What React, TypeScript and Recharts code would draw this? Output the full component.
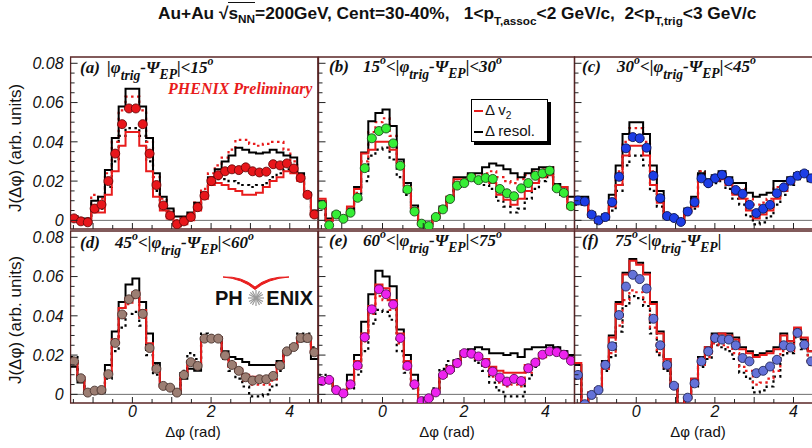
import React from 'react';
import { ComposedChart, Line, Scatter, XAxis, YAxis, ReferenceLine, ReferenceArea } from 'recharts';

// ---- bins (degrees) ----
const binLowDeg = [-90, -80, -70, -60, -50, -40, -30, -20, -10, 0, 10, 20, 30, 40, 50, 60, 70, 80, 90, 100, 110, 120, 130, 140, 150, 160, 170, 180, 190, 200, 210, 220, 230, 240, 250, 260];
const binWidthDeg = 10;
const xDomain = [-Math.PI / 2, (3 * Math.PI) / 2];
const yDomain = [-0.0044, 0.0832];
const xTicks = [-1.5, -1, -0.5, 0, 0.5, 1, 1.5, 2, 2.5, 3, 3.5, 4, 4.5];
const xLabelVals = [0, 2, 4];
const xLabelText = ['0', '2', '4'];
const yTicks = [0, 0.005, 0.01, 0.015, 0.02, 0.025, 0.03, 0.035, 0.04, 0.045, 0.05, 0.055, 0.06, 0.065, 0.07, 0.075, 0.08];
const yLabelVals = [0, 0.02, 0.04, 0.06, 0.08];
const yLabelText = ['0', '0.02', '0.04', '0.06', '0.08'];

// ---- panel (a) |phi-Psi|<15 ----
const dataA = [0.001, -0.0005, -0.001, 0.006, 0.008, 0.020, 0.034, 0.049, 0.057, 0.057, 0.049, 0.034, 0.018, 0.0076, 0.0025, -0.002, -0.0005, 0.0017, 0.0067, 0.0126, 0.020, 0.023, 0.025, 0.026, 0.0256, 0.027, 0.025, 0.0244, 0.0248, 0.0286, 0.028, 0.029, 0.0264, 0.0216, 0.013, 0.003];
const resolHiA = [0.002, 0.001, 0.001, 0.010, 0.012, 0.0256, 0.042, 0.058, 0.067, 0.067, 0.058, 0.042, 0.024, 0.012, 0.006, 0.002, 0.002, 0.004, 0.009, 0.014, 0.022, 0.026, 0.030, 0.033, 0.037, 0.036, 0.0345, 0.034, 0.0345, 0.036, 0.0345, 0.033, 0.032, 0.024, 0.014, 0.005];
const resolLoA = [0.001, -0.001, -0.001, 0.005, 0.006, 0.017, 0.030, 0.043, 0.047, 0.047, 0.043, 0.030, 0.015, 0.006, 0.002, -0.003, -0.001, 0.001, 0.006, 0.012, 0.019, 0.021, 0.021, 0.020, 0.019, 0.018, 0.017, 0.018, 0.019, 0.022, 0.024, 0.026, 0.025, 0.021, 0.013, 0.003];
const v2SolidA = [0.000, -0.001, -0.001, 0.004, 0.004, 0.013, 0.025, 0.038, 0.045, 0.045, 0.038, 0.025, 0.012, 0.005, 0.001, -0.003, -0.002, 0.000, 0.005, 0.011, 0.018, 0.019, 0.018, 0.016, 0.015, 0.013, 0.013, 0.014, 0.017, 0.020, 0.022, 0.025, 0.024, 0.020, 0.012, 0.002];
const v2DotA = [0.002, 0.001, 0.001, 0.013, 0.011, 0.024, 0.040, 0.056, 0.063, 0.063, 0.056, 0.040, 0.022, 0.011, 0.005, 0.000, 0.001, 0.003, 0.009, 0.016, 0.024, 0.028, 0.032, 0.036, 0.041, 0.041, 0.039, 0.038, 0.039, 0.040, 0.040, 0.036, 0.030, 0.022, 0.013, 0.004];

// ---- panel (b) 15-30 ----
const dataB = [0.0079, -0.0025, 0.003, 0.0008, 0.0039, 0.0115, 0.0266, 0.0418, 0.0455, 0.0468, 0.0392, 0.0278, 0.0157, 0.0045, -0.0017, -0.0029, 0.0017, 0.0056, 0.0109, 0.0177, 0.019, 0.0219, 0.0205, 0.0216, 0.0211, 0.016, 0.0138, 0.0123, 0.0163, 0.019, 0.0227, 0.0239, 0.0253, 0.0163, 0.014, 0.0072];
const resolHiB = [0.010, 0.001, 0.004, 0.002, 0.006, 0.017, 0.0345, 0.0505, 0.0547, 0.0564, 0.048, 0.031, 0.019, 0.0076, -0.001, -0.002, 0.002, 0.007, 0.012, 0.022, 0.022, 0.024, 0.024, 0.027, 0.029, 0.028, 0.026, 0.024, 0.022, 0.024, 0.026, 0.027, 0.027, 0.0185, 0.017, 0.012];
const resolLoB = [0.009, 0.0, 0.002, 0.001, 0.005, 0.010, 0.020, 0.033, 0.036, 0.037, 0.031, 0.022, 0.013, 0.004, -0.002, -0.003, 0.001, 0.005, 0.010, 0.017, 0.019, 0.021, 0.020, 0.018, 0.016, 0.010, 0.007, 0.004, 0.006, 0.011, 0.016, 0.020, 0.022, 0.015, 0.013, 0.006];
const v2SolidB = [0.011, 0.0, 0.002, 0.002, 0.007, 0.016, 0.034, 0.036, 0.040, 0.040, 0.036, 0.029, 0.017, 0.006, -0.002, -0.003, 0.002, 0.006, 0.012, 0.021, 0.021, 0.022, 0.022, 0.020, 0.019, 0.013, 0.0105, 0.008, 0.011, 0.015, 0.019, 0.022, 0.023, 0.017, 0.017, 0.006];
const v2DotB = [0.009, 0.0, 0.003, 0.001, 0.004, 0.014, 0.030, 0.045, 0.050, 0.052, 0.043, 0.029, 0.017, 0.006, -0.001, -0.002, 0.002, 0.006, 0.011, 0.019, 0.020, 0.023, 0.022, 0.024, 0.025, 0.022, 0.020, 0.019, 0.021, 0.023, 0.025, 0.026, 0.027, 0.017, 0.015, 0.008];

// ---- panel (c) 30-45 ----
const dataC = [0.0101, 0.0096, 0.0029, 0.0, 0.0017, 0.0093, 0.0222, 0.0367, 0.0424, 0.0418, 0.037, 0.0227, 0.0113, 0.0022, 0.0012, -0.0008, 0.0045, 0.0093, 0.0214, 0.0189, 0.0214, 0.0232, 0.0199, 0.0155, 0.0135, 0.0079, 0.0037, 0.0059, 0.0079, 0.0138, 0.0168, 0.0202, 0.0227, 0.0239, 0.0214, 0.019];
const resolHiC = [0.012, 0.012, 0.004, 0.001, 0.003, 0.013, 0.028, 0.044, 0.050, 0.050, 0.044, 0.028, 0.015, 0.003, 0.002, 0.0, 0.006, 0.012, 0.024, 0.021, 0.023, 0.025, 0.022, 0.019, 0.019, 0.014, 0.012, 0.013, 0.014, 0.020, 0.020, 0.022, 0.024, 0.025, 0.023, 0.020];
const resolLoC = [0.008, 0.008, 0.002, -0.001, 0.0, 0.005, 0.015, 0.028, 0.033, 0.033, 0.028, 0.015, 0.007, 0.001, 0.0, -0.002, 0.003, 0.006, 0.025, 0.017, 0.019, 0.020, 0.016, 0.011, 0.008, 0.002, -0.002, -0.001, 0.002, 0.008, 0.013, 0.018, 0.021, 0.023, 0.020, 0.017];
const v2SolidC = [0.009, 0.009, 0.002, -0.001, 0.001, 0.007, 0.018, 0.033, 0.038, 0.038, 0.033, 0.018, 0.009, 0.002, 0.001, -0.001, 0.004, 0.007, 0.020, 0.018, 0.020, 0.021, 0.018, 0.013, 0.011, 0.005, 0.001, 0.003, 0.005, 0.011, 0.015, 0.019, 0.022, 0.023, 0.021, 0.018];
const v2DotC = [0.011, 0.011, 0.003, 0.0, 0.002, 0.011, 0.025, 0.040, 0.047, 0.047, 0.040, 0.025, 0.013, 0.002, 0.001, -0.001, 0.005, 0.011, 0.025, 0.020, 0.022, 0.024, 0.020, 0.017, 0.016, 0.011, 0.008, 0.009, 0.011, 0.017, 0.018, 0.021, 0.023, 0.024, 0.022, 0.019];

// ---- panel (d) 45-60 ----
const dataD = [0.0168, 0.0082, 0.0009, 0.0019, 0.0022, 0.0103, 0.0262, 0.0407, 0.0484, 0.051, 0.041, 0.0236, 0.013, 0.0043, 0.0034, 0.0009, 0.0099, 0.0164, 0.0145, 0.0284, 0.0284, 0.0284, 0.0198, 0.015, 0.012, 0.0087, 0.007, 0.0077, 0.0077, 0.0094, 0.0147, 0.0219, 0.0241, 0.0287, 0.0287, 0.0214];
const resolHiD = [0.014, 0.006, 0.001, 0.001, 0.001, 0.015, 0.032, 0.047, 0.056, 0.059, 0.047, 0.031, 0.016, 0.005, 0.003, 0.0005, 0.008, 0.013, 0.012, 0.028, 0.028, 0.028, 0.022, 0.019, 0.018, 0.0165, 0.015, 0.015, 0.015, 0.015, 0.017, 0.021, 0.024, 0.027, 0.027, 0.018];
const resolLoD = [0.019, 0.009, 0.001, 0.002, 0.002, 0.008, 0.022, 0.034, 0.041, 0.042, 0.035, 0.020, 0.010, 0.004, 0.003, 0.001, 0.012, 0.021, 0.018, 0.031, 0.030, 0.029, 0.018, 0.012, 0.008, 0.004, -0.001, -0.001, 0.0, 0.004, 0.012, 0.022, 0.025, 0.031, 0.031, 0.024];
const v2SolidD = [0.017, 0.009, 0.001, 0.002, 0.002, 0.011, 0.028, 0.044, 0.049, 0.052, 0.043, 0.026, 0.013, 0.004, 0.003, 0.001, 0.010, 0.017, 0.015, 0.029, 0.029, 0.029, 0.020, 0.016, 0.013, 0.010, 0.009, 0.009, 0.009, 0.010, 0.016, 0.022, 0.024, 0.029, 0.029, 0.021];
const v2DotD = [0.016, 0.008, 0.001, 0.002, 0.002, 0.010, 0.025, 0.039, 0.046, 0.049, 0.039, 0.023, 0.012, 0.004, 0.003, 0.001, 0.010, 0.017, 0.015, 0.028, 0.028, 0.028, 0.019, 0.014, 0.011, 0.007, 0.005, 0.005, 0.005, 0.007, 0.014, 0.022, 0.024, 0.029, 0.029, 0.021];

// ---- panel (e) 60-75 ----
const dataE = [0.0068, 0.0074, 0.0022, 0.0005, 0.0051, 0.0147, 0.0291, 0.0433, 0.0535, 0.051, 0.0458, 0.0287, 0.0145, 0.0051, -0.0034, -0.002, 0.001, 0.0099, 0.0125, 0.0159, 0.021, 0.0207, 0.0193, 0.0159, 0.0116, 0.0086, 0.0065, 0.0079, 0.0068, 0.0133, 0.0162, 0.0202, 0.0219, 0.0215, 0.0202, 0.0171];
const resolHiE = [0.008, 0.007, 0.002, 0.001, 0.010, 0.020, 0.037, 0.051, 0.063, 0.060, 0.055, 0.033, 0.020, 0.010, -0.003, -0.002, 0.001, 0.010, 0.012, 0.017, 0.022, 0.023, 0.024, 0.023, 0.021, 0.021, 0.020, 0.021, 0.019, 0.023, 0.024, 0.024, 0.025, 0.024, 0.022, 0.020];
const resolLoE = [0.010, 0.009, 0.002, 0.0, 0.003, 0.010, 0.022, 0.036, 0.043, 0.042, 0.038, 0.022, 0.011, 0.003, -0.004, -0.002, 0.003, 0.013, 0.017, 0.018, 0.021, 0.020, 0.016, 0.012, 0.006, 0.002, -0.001, -0.001, -0.001, 0.008, 0.014, 0.020, 0.023, 0.024, 0.022, 0.019];
const v2SolidE = [0.007, 0.008, 0.003, 0.001, 0.006, 0.017, 0.031, 0.045, 0.056, 0.054, 0.048, 0.031, 0.017, 0.006, -0.003, -0.002, 0.002, 0.010, 0.014, 0.017, 0.022, 0.021, 0.020, 0.018, 0.014, 0.012, 0.011, 0.011, 0.011, 0.015, 0.017, 0.021, 0.022, 0.022, 0.020, 0.018];
const v2DotE = [0.006, 0.007, 0.002, 0.0, 0.004, 0.013, 0.027, 0.041, 0.050, 0.048, 0.043, 0.026, 0.013, 0.004, -0.004, -0.002, 0.001, 0.009, 0.012, 0.015, 0.020, 0.020, 0.018, 0.014, 0.009, 0.006, 0.004, 0.005, 0.004, 0.011, 0.015, 0.019, 0.021, 0.021, 0.020, 0.017];

// ---- panel (f) >75 ----
const dataF = [0.0099, -0.005, -0.0003, 0.0022, 0.015, 0.0245, 0.0404, 0.0549, 0.0609, 0.0587, 0.0539, 0.0385, 0.025, 0.015, 0.0044, -0.007, -0.0017, 0.0056, 0.0168, 0.0219, 0.0287, 0.0279, 0.0279, 0.025, 0.0185, 0.0168, 0.0108, 0.012, 0.0142, 0.0176, 0.025, 0.0239, 0.0313, 0.0253, 0.0168, 0.012];
const resolHiF = [0.015, -0.006, 0.001, 0.003, 0.017, 0.030, 0.047, 0.062, 0.069, 0.067, 0.062, 0.047, 0.032, 0.018, 0.005, -0.007, -0.002, 0.008, 0.019, 0.024, 0.031, 0.031, 0.031, 0.029, 0.024, 0.022, 0.020, 0.021, 0.022, 0.024, 0.031, 0.027, 0.033, 0.028, 0.022, 0.017];
const resolLoF = [0.008, -0.005, -0.001, 0.001, 0.012, 0.019, 0.032, 0.045, 0.050, 0.049, 0.045, 0.031, 0.020, 0.012, 0.004, -0.007, -0.002, 0.004, 0.014, 0.018, 0.025, 0.024, 0.022, 0.018, 0.011, 0.008, 0.001, 0.002, 0.004, 0.009, 0.020, 0.021, 0.029, 0.023, 0.015, 0.010];
const v2SolidF = [0.016, -0.006, 0.001, 0.003, 0.016, 0.029, 0.046, 0.061, 0.068, 0.066, 0.061, 0.046, 0.031, 0.018, 0.005, -0.007, -0.002, 0.008, 0.018, 0.024, 0.030, 0.031, 0.030, 0.028, 0.023, 0.021, 0.019, 0.020, 0.021, 0.023, 0.030, 0.027, 0.034, 0.029, 0.022, 0.017];
const v2DotF = [0.009, -0.005, -0.001, 0.002, 0.013, 0.021, 0.035, 0.048, 0.053, 0.052, 0.047, 0.034, 0.021, 0.013, 0.004, -0.007, -0.002, 0.005, 0.015, 0.019, 0.026, 0.025, 0.024, 0.021, 0.014, 0.012, 0.005, 0.006, 0.008, 0.012, 0.022, 0.022, 0.030, 0.024, 0.016, 0.011];

// ---- helpers ----
const deg2rad = (d: number) => (d * Math.PI) / 180;
const binCentersRad = binLowDeg.map((d) => deg2rad(d + binWidthDeg / 2));
const binEdgesRad = [...binLowDeg, binLowDeg[binLowDeg.length - 1] + binWidthDeg].map(deg2rad);
const stepData = (vals: number[]) => binEdgesRad.map((x, i) => ({ x, y: vals[Math.min(i, vals.length - 1)] }));
const pointData = (vals: number[]) => binCentersRad.map((x, i) => ({ x, y: vals[i] }));

const RED = '#e81c1c';
const FRAME = '#5a2626';
const SANS = '"Liberation Sans", Arial, Helvetica, sans-serif';
const SERIF = '"Liberation Serif", "Times New Roman", serif';

type PanelCfg = {
  key: string; left: number; right: number; top: number; bottom: number;
  data: number[]; rHi: number[]; rLo: number[]; vS: number[]; vD: number[];
  fill: string; edge: string; yLabels: boolean; xLabels: boolean;
};

const panels: PanelCfg[] = [
  { key: 'a', left: 70.6, right: 317.8, top: 57, bottom: 229, data: dataA, rHi: resolHiA, rLo: resolLoA, vS: v2SolidA, vD: v2DotA, fill: '#e8161b', edge: '#6a0a0a', yLabels: true, xLabels: false },
  { key: 'b', left: 318.5, right: 574.5, top: 57, bottom: 229, data: dataB, rHi: resolHiB, rLo: resolLoB, vS: v2SolidB, vD: v2DotB, fill: '#36ee36', edge: '#1c4a1c', yLabels: false, xLabels: false },
  { key: 'c', left: 574.5, right: 821.5, top: 57, bottom: 229, data: dataC, rHi: resolHiC, rLo: resolLoC, vS: v2SolidC, vD: v2DotC, fill: '#1d3ee6', edge: '#0b1655', yLabels: false, xLabels: false },
  { key: 'd', left: 70.6, right: 317.8, top: 231, bottom: 403, data: dataD, rHi: resolHiD, rLo: resolLoD, vS: v2SolidD, vD: v2DotD, fill: '#9c7e73', edge: '#4a3630', yLabels: true, xLabels: true },
  { key: 'e', left: 318.5, right: 574.5, top: 231, bottom: 403, data: dataE, rHi: resolHiE, rLo: resolLoE, vS: v2SolidE, vD: v2DotE, fill: '#ee22ee', edge: '#5a105a', yLabels: false, xLabels: true },
  { key: 'f', left: 574.5, right: 821.5, top: 231, bottom: 403, data: dataF, rHi: resolHiF, rLo: resolLoF, vS: v2SolidF, vD: v2DotF, fill: '#6472d8', edge: '#23285a', yLabels: false, xLabels: true },
];

const makeXTick = (show: boolean) => (props: any) => {
  const { x, y, payload } = props;
  const v = payload.value as number;
  const isInt = Math.abs(v - Math.round(v)) < 1e-6;
  const idx = xLabelVals.findIndex((t) => Math.abs(t - v) < 1e-6);
  return (
    <g>
      <line x1={x} x2={x} y1={y} y2={y - (isInt ? 6 : 4)} stroke="#222" strokeWidth={1} />
      {show && idx >= 0 && (
        <text x={x} y={y + 14} textAnchor="middle" fontStyle="italic" fontSize={16} fontFamily={SANS} fill="#111">{xLabelText[idx]}</text>
      )}
    </g>
  );
};

const makeYTick = (show: boolean) => (props: any) => {
  const { x, y, payload } = props;
  const v = payload.value as number;
  const idx = yLabelVals.findIndex((t) => Math.abs(t - v) < 1e-7);
  return (
    <g>
      <line x1={x} x2={x + (idx >= 0 ? 7 : 4)} y1={y} y2={y} stroke="#222" strokeWidth={1} />
      {show && idx >= 0 && (
        <text x={x - 7} y={y} dy="0.36em" textAnchor="end" fontStyle="italic" fontSize={16} fontFamily={SANS} fill="#111">{yLabelText[idx]}</text>
      )}
    </g>
  );
};

const W = 830;
const H = 448;

function Panel({ p }: { p: PanelCfg }) {
  const dot = (props: any) => (
    <circle cx={props.cx} cy={props.cy} r={4.5} fill={p.fill} stroke={p.edge} strokeWidth={0.9} />
  );
  return (
    <div style={{ position: 'absolute', left: 0, top: 0 }}>
      <ComposedChart width={W} height={H} margin={{ top: p.top, left: p.left - 1, right: W - p.right, bottom: H - p.bottom - 1 }}>
        <XAxis type="number" dataKey="x" domain={xDomain} ticks={xTicks} interval={0} allowDataOverflow height={1}
          axisLine={false} tickLine={false} tickSize={0} tickMargin={0} tick={makeXTick(p.xLabels)} />
        <YAxis type="number" dataKey="y" domain={yDomain} ticks={yTicks} interval={0} allowDataOverflow width={1}
          axisLine={false} tickLine={false} tickSize={0} tickMargin={0} tick={makeYTick(p.yLabels)} />
        <ReferenceLine y={0} stroke="#6d6d6d" strokeWidth={1} />
        <Line data={stepData(p.rLo)} type="stepAfter" dataKey="y" stroke="#000" strokeWidth={2.2} strokeDasharray="2.5 3.5" dot={false} activeDot={false} isAnimationActive={false} />
        <Line data={stepData(p.vD)} type="stepAfter" dataKey="y" stroke={RED} strokeWidth={2.2} strokeDasharray="2.5 3.5" dot={false} activeDot={false} isAnimationActive={false} />
        <Line data={stepData(p.rHi)} type="stepAfter" dataKey="y" stroke="#000" strokeWidth={2} dot={false} activeDot={false} isAnimationActive={false} />
        <Line data={stepData(p.vS)} type="stepAfter" dataKey="y" stroke={RED} strokeWidth={2} dot={false} activeDot={false} isAnimationActive={false} />
        <Scatter data={pointData(p.data)} dataKey="y" shape={dot} isAnimationActive={false} />
        <ReferenceArea x1={xDomain[0]} x2={xDomain[1]} y1={yDomain[0]} y2={yDomain[1]} fill="none" stroke={FRAME} strokeWidth={1.3} ifOverflow="visible" />
      </ComposedChart>
    </div>
  );
}

const Sub = ({ children, drop = 0.45, size = 0.68 }: { children: React.ReactNode; drop?: number; size?: number }) => (
  <span style={{ fontSize: `${size}em`, position: 'relative', top: `${drop}em`, verticalAlign: 'baseline' }}>{children}</span>
);
const Sup = ({ children }: { children: React.ReactNode }) => (
  <span style={{ fontSize: '0.7em', position: 'relative', top: '-0.7em', verticalAlign: 'baseline' }}>{children}</span>
);

const PhiPsi = () => (
  <>|φ<Sub drop={0.5} size={0.8}>trig</Sub>-Ψ<Sub drop={0.45} size={0.8}>EP</Sub>|</>
);

const labelStyle: React.CSSProperties = { position: 'absolute', font: `italic bold 17px ${SERIF}`, lineHeight: '17px', whiteSpace: 'nowrap', color: '#111' };

const panelLabels = [
  { tag: '(a)', x0: 80, x1: 107, top: 59, body: <><PhiPsi />&lt;15<Sup>o</Sup></> },
  { tag: '(b)', x0: 329, x1: 363, top: 58, body: <>15<Sup>o</Sup>&lt;<PhiPsi />&lt;30<Sup>o</Sup></> },
  { tag: '(c)', x0: 582, x1: 617, top: 58, body: <>30<Sup>o</Sup>&lt;<PhiPsi />&lt;45<Sup>o</Sup></> },
  { tag: '(d)', x0: 80, x1: 115, top: 234, body: <>45<Sup>o</Sup>&lt;<PhiPsi />&lt;60<Sup>o</Sup></> },
  { tag: '(e)', x0: 329, x1: 363, top: 232, body: <>60<Sup>o</Sup>&lt;<PhiPsi />&lt;75<Sup>o</Sup></> },
  { tag: '(f)', x0: 582, x1: 615, top: 232, body: <>75<Sup>o</Sup>&lt;<PhiPsi /></> },
];

export default function App() {
  return (
    <div style={{ position: 'absolute', left: 0, top: 0, width: 812, height: 448, overflow: 'hidden', background: '#fff' }}>
      {panels.map((p) => (
        <Panel key={p.key} p={p} />
      ))}

      {/* title */}
      <div style={{ position: 'absolute', left: 158, top: 4, font: `bold 17.3px ${SANS}`, lineHeight: '18px', whiteSpace: 'pre', color: '#111' }}>
        Au+Au √<span style={{ borderTop: '1.5px solid #111' }}>s<Sub drop={0.35}>NN</Sub></span>=200GeV, Cent=30-40%,   1&lt;p<Sub drop={0.55}>T,assoc</Sub>&lt;2 GeV/c,  2&lt;p<Sub drop={0.55}>T,trig</Sub>&lt;3 GeV/c
      </div>

      {/* panel labels */}
      {panelLabels.map((l) => (
        <React.Fragment key={l.tag}>
          <div style={{ ...labelStyle, left: l.x0, top: l.top }}>{l.tag}</div>
          <div style={{ ...labelStyle, left: l.x1, top: l.top }}>{l.body}</div>
        </React.Fragment>
      ))}

      <div style={{ position: 'absolute', left: 168, top: 81, font: `italic bold 16px ${SERIF}`, lineHeight: '16px', color: RED, whiteSpace: 'nowrap' }}>
        PHENIX Preliminary
      </div>

      {/* legend */}
      <div style={{ position: 'absolute', left: 471, top: 99, width: 77, height: 43, background: '#fff', border: '1px solid #000', boxShadow: '3px 3px 0 #000', boxSizing: 'border-box', font: `15px ${SANS}`, color: '#111' }}>
        <div style={{ position: 'absolute', left: 2, top: 10, width: 9, height: 2, background: RED }} />
        <div style={{ position: 'absolute', left: 13, top: 2, lineHeight: '16px', whiteSpace: 'nowrap' }}>Δ v<Sub drop={0.4}>2</Sub></div>
        <div style={{ position: 'absolute', left: 2, top: 31, width: 9, height: 2, background: '#000' }} />
        <div style={{ position: 'absolute', left: 13, top: 23, lineHeight: '16px', whiteSpace: 'nowrap' }}>Δ resol.</div>
      </div>

      {/* axis titles and logo */}
      <svg width={812} height={448} style={{ position: 'absolute', left: 0, top: 0, pointerEvents: 'none' }}>
        <text transform="translate(21,148) rotate(-90)" textAnchor="middle" fontSize={17} fontFamily={SANS} fill="#111">J(Δφ) (arb. units)</text>
        <text transform="translate(21,320) rotate(-90)" textAnchor="middle" fontSize={17} fontFamily={SANS} fill="#111">J(Δφ) (arb. units)</text>
        <text x={193} y={437} textAnchor="middle" fontSize={15} fontFamily={SANS} fill="#111">Δφ (rad)</text>
        <text x={447} y={437} textAnchor="middle" fontSize={15} fontFamily={SANS} fill="#111">Δφ (rad)</text>
        <text x={698} y={437} textAnchor="middle" fontSize={15} fontFamily={SANS} fill="#111">Δφ (rad)</text>

        {/* PHENIX logo */}
        <path d="M223,277 Q242,276 255,287 Q268,276 289,277 Q268,278.5 255,289.5 Q242,278.5 223,277 Z" fill={RED} stroke={RED} strokeWidth={1} />
        <text x={215} y={305} fontSize={20} fontWeight="bold" fontFamily={SANS} fill="#111">PH</text>
        <text x={313} y={305} textAnchor="end" fontSize={20} fontWeight="bold" fontFamily={SANS} fill="#111">ENIX</text>
        <g stroke="#9a9a9a" strokeWidth={1.2}>
          <line x1={248} y1={298} x2={264} y2={298} />
          <line x1={256} y1={290} x2={256} y2={306} />
          <line x1={250.3} y1={292.3} x2={261.7} y2={303.7} />
          <line x1={250.3} y1={303.7} x2={261.7} y2={292.3} />
          <line x1={249} y1={294.5} x2={263} y2={301.5} />
          <line x1={249} y1={301.5} x2={263} y2={294.5} />
          <line x1={252.5} y1={291} x2={259.5} y2={305} />
          <line x1={252.5} y1={305} x2={259.5} y2={291} />
        </g>
      </svg>
    </div>
  );
}
